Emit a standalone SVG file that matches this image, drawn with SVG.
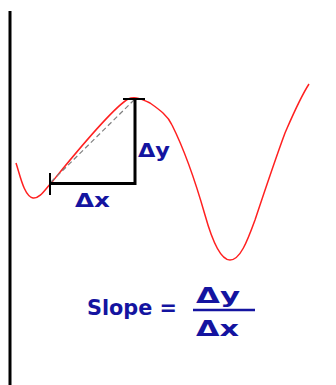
<svg xmlns="http://www.w3.org/2000/svg" width="336" height="385" viewBox="0 0 336 385">
<style>
.lbl{font-family:"DejaVu Sans",Verdana,sans-serif;font-weight:bold;font-size:20px;fill:#1414a0}
.big{font-size:22px}
.blk{stroke:#000;fill:none}
</style>
<rect width="336" height="385" fill="#fff"/>
<g id="axis"><line class="blk" x1="10" y1="11" x2="10" y2="385" stroke-width="3"/></g>
<g id="curve"><path d="M16,163 C20,175 24,196 33,198 C40,199 46,188 52,182 C70,160 110,110 128,99 C135,96 142,99 150,103 C160,110 168,116 172,125 C182,145 195,180 205,215 C212,240 220,260 230,260 C240,260 247,242 255,220 C265,190 275,160 285,133 C295,110 300,98 309,84" fill="none" stroke="#ff2020" stroke-width="1.5"/></g>
<g id="connectors">
<line x1="51" y1="182" x2="134" y2="100" stroke="#808080" stroke-width="1.2" stroke-dasharray="5,3"/>
<polyline class="blk" points="50,183.5 135,183.5 135,99" stroke-width="3"/>
<line class="blk" x1="50" y1="173" x2="50" y2="195" stroke-width="2"/>
<line class="blk" x1="123" y1="99" x2="145" y2="99" stroke-width="2"/>
</g>
<g id="dy"><text class="lbl" x="138" y="157" textLength="32" lengthAdjust="spacingAndGlyphs">Δy</text></g>
<g id="dx"><text class="lbl" x="75" y="207" textLength="35" lengthAdjust="spacingAndGlyphs">Δx</text></g>
<g id="formula">
<text class="lbl big" x="87" y="315" textLength="90" lengthAdjust="spacingAndGlyphs">Slope =</text>
<text class="lbl big" x="196" y="303" textLength="44" lengthAdjust="spacingAndGlyphs">Δy</text>
<line x1="193" y1="310" x2="255" y2="310" stroke="#1414a0" stroke-width="2.5"/>
<text class="lbl big" x="196" y="336" textLength="43" lengthAdjust="spacingAndGlyphs">Δx</text>
</g>
</svg>
